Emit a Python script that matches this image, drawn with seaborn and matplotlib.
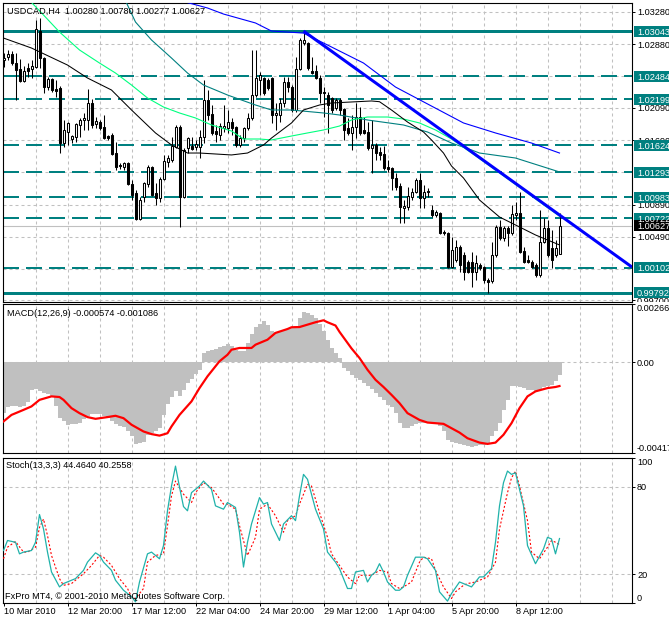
import matplotlib
matplotlib.use("Agg")
import matplotlib.pyplot as plt
from matplotlib.patches import Rectangle
from matplotlib.transforms import blended_transform_factory, Bbox, TransformedBbox
import numpy as np
import seaborn as sns

# ---------------- data ----------------
title_text = "USDCAD,H4  1.00280 1.00780 1.00277 1.00627"
macd_text = "MACD(12,26,9) -0.000574 -0.001086"
stoch_text = "Stoch(13,3,3) 44.4640 40.2558"
copy_text = "FxPro MT4, \u00a9 2001-2010 MetaQuotes Software Corp."

date_labels = ["10 Mar 2010", "12 Mar 20:00", "17 Mar 12:00", "22 Mar 04:00", "24 Mar 20:00",
               "29 Mar 12:00", "1 Apr 04:00", "5 Apr 20:00", "8 Apr 12:00"]
date_bars = [0, 16, 32, 48, 64, 80, 96, 112, 128]

opens = [1.02683, 1.02721, 1.02758, 1.02646, 1.02572, 1.02423, 1.02584, 1.02572, 1.02596, 1.03043,
         1.02708, 1.02348, 1.02448, 1.02323, 1.02336, 1.01653, 1.01790, 1.01703, 1.01728, 1.01877,
         1.01939, 1.01939, 1.02150, 1.01889, 1.01914, 1.01852, 1.01740, 1.01753, 1.01529, 1.01380,
         1.01356, 1.01405, 1.01145, 1.01033, 1.00710, 1.00983, 1.01145, 1.01356, 1.01033, 1.00971,
         1.01207, 1.01418, 1.01442, 1.01604, 1.01852, 1.00983, 1.01591, 1.01616, 1.01604, 1.01604,
         1.01728, 1.02187, 1.02013, 1.01802, 1.01753, 1.01840, 1.01840, 1.01914, 1.01852, 1.01629,
         1.01715, 1.01840, 1.01964, 1.02249, 1.02435, 1.02460, 1.02435, 1.02460, 1.02001, 1.02001,
         1.02150, 1.02410, 1.02348, 1.02063, 1.02572, 1.02894, 1.02894, 1.02547, 1.02547, 1.02460,
         1.02286, 1.02249, 1.02212, 1.02088, 1.02187, 1.02075, 1.01840, 1.01778, 1.01852, 1.01976,
         1.01815, 1.01790, 1.01591, 1.01629, 1.01542, 1.01517, 1.01356, 1.01343, 1.01219, 1.01120,
         1.00847, 1.00859, 1.00983, 1.01045, 1.01194, 1.00971, 1.01058, 1.00822, 1.00760, 1.00785,
         1.00549, 1.00536, 1.00115, 1.00201, 1.00363, 1.00263, 1.00177, 1.00177, 1.00053, 1.00139,
         1.00115, 0.99953, 0.99941, 1.00263, 1.00611, 1.00474, 1.00599, 1.00536, 1.00760, 1.00785,
         1.00313, 1.00201, 1.00177, 1.00139, 1.00015, 1.00425, 1.00599, 1.00350, 1.00263, 1.00280]
highs = [1.02770, 1.02808, 1.02795, 1.02770, 1.02696, 1.02609, 1.02646, 1.02683, 1.03180, 1.03205,
         1.02721, 1.02472, 1.02460, 1.02435, 1.02361, 1.01939, 1.01914, 1.01753, 1.01902, 1.01964,
         1.02026, 1.02323, 1.02199, 1.01976, 1.01939, 1.02001, 1.01753, 1.01778, 1.01666, 1.01405,
         1.01418, 1.01418, 1.01194, 1.01070, 1.00983, 1.01169, 1.01380, 1.01368, 1.01157, 1.01232,
         1.01505, 1.01505, 1.01728, 1.01877, 1.01877, 1.01591, 1.01728, 1.01728, 1.01691, 1.01815,
         1.02435, 1.02311, 1.02125, 1.01877, 1.01902, 1.02125, 1.02063, 1.01964, 1.01864, 1.01753,
         1.01852, 1.02026, 1.02808, 1.02808, 1.02534, 1.02472, 1.02460, 1.02472, 1.02150, 1.02212,
         1.02472, 1.02472, 1.02373, 1.02721, 1.02956, 1.03043, 1.02907, 1.02721, 1.02621, 1.02497,
         1.02348, 1.02286, 1.02224, 1.02212, 1.02212, 1.02088, 1.01964, 1.02001, 1.02150, 1.02100,
         1.01976, 1.01914, 1.01939, 1.01653, 1.01604, 1.01616, 1.01442, 1.01356, 1.01281, 1.01157,
         1.00946, 1.01107, 1.01095, 1.01219, 1.01281, 1.01132, 1.01095, 1.00884, 1.00822, 1.00797,
         1.00574, 1.00549, 1.00487, 1.00450, 1.00388, 1.00301, 1.00201, 1.00301, 1.00263, 1.00164,
         1.00127, 0.99978, 1.00425, 1.00636, 1.00698, 1.00623, 1.00623, 1.00884, 1.00921, 1.01045,
         1.00363, 1.00263, 1.00201, 1.00164, 1.00822, 1.00723, 1.00698, 1.00574, 1.00450, 1.00780]
lows = [1.02596, 1.02683, 1.02621, 1.02187, 1.02410, 1.02410, 1.02472, 1.02460, 1.02584, 1.02584,
        1.02274, 1.02311, 1.02286, 1.02224, 1.01529, 1.01604, 1.01629, 1.01653, 1.01666, 1.01728,
        1.01815, 1.01815, 1.01840, 1.01840, 1.01815, 1.01703, 1.01691, 1.01505, 1.01318, 1.01331,
        1.01318, 1.01132, 1.00946, 1.00698, 1.00698, 1.00921, 1.01107, 1.00996, 1.00884, 1.00921,
        1.01194, 1.01356, 1.01418, 1.01591, 1.00611, 1.00971, 1.01529, 1.01567, 1.01567, 1.01467,
        1.01653, 1.01939, 1.01753, 1.01666, 1.01691, 1.01790, 1.01778, 1.01753, 1.01604, 1.01604,
        1.01666, 1.01815, 1.01939, 1.02224, 1.02249, 1.02249, 1.02311, 1.01902, 1.01815, 1.01914,
        1.02100, 1.02286, 1.02038, 1.02038, 1.02559, 1.02870, 1.02559, 1.02510, 1.02448, 1.02150,
        1.01976, 1.01778, 1.02026, 1.02063, 1.02001, 1.01691, 1.01753, 1.01567, 1.01715, 1.01753,
        1.01765, 1.01567, 1.01281, 1.01442, 1.01442, 1.01318, 1.01294, 1.01070, 1.01070, 1.00661,
        1.00661, 1.00822, 1.00946, 1.01033, 1.00847, 1.00847, 1.00983, 1.00735, 1.00735, 1.00524,
        1.00512, 1.00102, 1.00102, 1.00177, 1.00053, 0.99953, 1.00040, 0.99866, 0.99953, 1.00077,
        0.99916, 0.99792, 0.99916, 1.00239, 1.00450, 1.00437, 1.00375, 1.00512, 1.00698, 1.00288,
        1.00164, 1.00164, 1.00102, 0.99990, 0.99990, 1.00412, 1.00239, 1.00102, 1.00239, 1.00277]
closes = [1.02708, 1.02758, 1.02646, 1.02559, 1.02423, 1.02547, 1.02547, 1.02609, 1.03068, 1.02708,
          1.02348, 1.02448, 1.02311, 1.02299, 1.01653, 1.01815, 1.01902, 1.01740, 1.01889, 1.01939,
          1.01964, 1.02150, 1.01877, 1.01926, 1.01840, 1.01715, 1.01715, 1.01517, 1.01356, 1.01368,
          1.01405, 1.01145, 1.01008, 1.00710, 1.00946, 1.01157, 1.01356, 1.01008, 1.00971, 1.01207,
          1.01430, 1.01467, 1.01616, 1.01852, 1.00983, 1.01567, 1.01715, 1.01579, 1.01641, 1.01728,
          1.02187, 1.02001, 1.01778, 1.01765, 1.01864, 1.01864, 1.01914, 1.01840, 1.01629, 1.01715,
          1.01840, 1.01964, 1.02249, 1.02460, 1.02497, 1.02274, 1.02336, 1.02001, 1.02026, 1.02150,
          1.02410, 1.02348, 1.02063, 1.02572, 1.02932, 1.02932, 1.02584, 1.02522, 1.02460, 1.02274,
          1.02274, 1.02125, 1.02063, 1.02187, 1.02063, 1.01815, 1.01778, 1.01852, 1.01976, 1.01778,
          1.01778, 1.01591, 1.01629, 1.01529, 1.01505, 1.01343, 1.01331, 1.01219, 1.01107, 1.00859,
          1.00871, 1.00996, 1.01045, 1.01194, 1.00971, 1.01045, 1.01045, 1.00760, 1.00797, 1.00536,
          1.00536, 1.00115, 1.00325, 1.00363, 1.00139, 1.00053, 1.00053, 1.00053, 1.00164, 1.00102,
          0.99953, 0.99928, 1.00263, 1.00611, 1.00474, 1.00599, 1.00536, 1.00772, 1.00785, 1.00301,
          1.00177, 1.00177, 1.00115, 1.00015, 1.00425, 1.00599, 1.00263, 1.00201, 1.00350, 1.00627]

# moving averages (bar index, price)
black_ma_bars = [0, 7, 16, 21, 27, 32, 38, 42, 46, 49, 53, 57, 61, 65, 67, 72, 75, 79, 82, 92, 94, 97,
                 101, 105, 107, 110, 112, 115, 119, 124, 128, 133, 136, 139]
black_ma = [1.02956, 1.02832, 1.02621, 1.02460, 1.02311, 1.02063, 1.01778, 1.01629, 1.01529, 1.01529,
            1.01517, 1.01505, 1.01529, 1.01629, 1.01715, 1.01902, 1.02063, 1.02125, 1.02150, 1.02175,
            1.02166, 1.02063, 1.01914, 1.01790, 1.01691, 1.01529, 1.01368, 1.01219, 1.00946, 1.00735,
            1.00636, 1.00512, 1.00450, 1.00388]
green_ma_bars = [0, 5, 10, 14, 19, 24, 28, 32, 36, 40, 44, 48, 52, 57, 60, 64, 67, 72, 76, 80, 84, 87,
                 91, 96, 100, 104, 108, 112, 117, 124, 132, 139]
green_ma = [1.03775, 1.03502, 1.03242, 1.03031, 1.02808, 1.02646, 1.02522, 1.02373, 1.02212, 1.02100,
            1.02026, 1.01964, 1.01877, 1.01802, 1.01703, 1.01703, 1.01691, 1.01740, 1.01778, 1.01815,
            1.01864, 1.01939, 1.01976, 1.01976, 1.01951, 1.01902, 1.01815, 1.01703, 1.01530, 1.01282,
            1.00995, 1.00745]
teal_ma_bars = [27, 29, 31, 33, 35, 37, 42, 46, 50, 56, 63, 67, 72, 80, 84, 91, 100, 106, 112, 117, 119,
                128, 139]
teal_ma = [1.03862, 1.03577, 1.03366, 1.03155, 1.03043, 1.02932, 1.02708, 1.02522, 1.02373, 1.02249,
           1.02125, 1.02063, 1.02063, 1.02026, 1.02001, 1.01939, 1.01877, 1.01790, 1.01653, 1.01567,
           1.01529, 1.01467, 1.01294]
blue_ma_bars = [0, 24, 39, 51, 55, 63, 67, 75, 82, 90, 98, 107, 115, 123, 132, 139]
blue_ma = [1.04049, 1.03701, 1.03490, 1.03329, 1.03254, 1.03143, 1.03043, 1.03018, 1.02845, 1.02646,
           1.02348, 1.02112, 1.01902, 1.01778, 1.01653, 1.01529]

# trend line anchors (bar, price)
trend_bars = [75, 139]
trend_prices = [1.03043, 1.00760]

# horizontal levels
levels_solid = [1.03043, 0.99792]
levels_dashed = [1.02484, 1.02199, 1.01624, 1.01293, 1.00983, 1.00722, 1.00102]
level_labels = ["1.03043", "1.02484", "1.02199", "1.01624", "1.01293", "1.00983", "1.00722",
                "1.00102", "0.99792"]
level_label_prices = [1.03043, 1.02484, 1.02199, 1.01624, 1.01293, 1.00983, 1.00722, 1.00102, 0.99792]
bid_price = 1.00627
bid_label = "1.00627"

price_ticks = [1.03280, 1.02880, 1.02090, 1.01690, 1.00890, 1.00490, 0.99700]
price_tick_labels = ["1.03280", "1.02880", "1.02090", "1.01690", "1.00890", "1.00490", "0.99700"]
price_grid = [1.03280, 1.02880, 1.02485, 1.02090, 1.01690, 1.01290, 1.00890, 1.00490, 1.00095, 0.99700]

# MACD main (histogram), units of 1e-3
macd_main = [-2.33, -2.05, -1.99, -2.02, -2.05, -1.99, -1.84, -1.29, -1.23, -1.33,
             -1.41, -1.46, -1.56, -2.02, -2.56, -2.71, -2.86, -2.85, -2.83, -2.79,
             -2.60, -2.45, -2.37, -2.36, -2.39, -2.45, -2.56, -2.71, -2.82, -2.90,
             -2.97, -3.13, -3.37, -3.74, -3.71, -3.63, -3.32, -3.25, -3.17, -3.02,
             -2.41, -1.90, -1.59, -1.33, -1.56, -1.26, -0.95, -0.77, -0.55, -0.34,
             0.43, 0.54, 0.58, 0.63, 0.69, 0.77, 0.83, 0.74, 0.58, 0.51,
             0.51, 0.89, 1.32, 1.62, 1.78, 1.88, 1.73, 1.42, 1.38, 1.44,
             1.50, 1.53, 1.59, 1.69, 2.04, 2.30, 2.27, 2.16, 2.04, 1.78,
             1.42, 1.04, 0.66, 0.43, 0.20, -0.26, -0.41, -0.57, -0.72, -0.80,
             -0.95, -1.10, -1.23, -1.41, -1.59, -1.72, -1.95, -2.05, -2.33, -2.79,
             -3.02, -3.02, -2.94, -2.82, -2.79, -2.76, -2.76, -2.79, -2.82, -2.94,
             -3.17, -3.55, -3.63, -3.68, -3.74, -3.78, -3.83, -3.86, -3.83, -3.81,
             -3.81, -3.71, -3.40, -3.17, -2.79, -2.18, -1.72, -1.10, -1.07, -1.13,
             -1.18, -1.26, -1.29, -1.33, -1.26, -1.13, -1.07, -1.03, -0.87, -0.574]
macd_sig_bars = [0, 2, 5, 7, 9, 12, 14, 15, 17, 19, 21, 23, 26, 28, 30, 32, 35, 37, 39, 41,
                 42, 44, 47, 49, 51, 53, 54, 56, 57, 59, 62, 63, 66, 68, 71, 72, 74, 76, 78, 80,
                 81, 83, 84, 87, 89, 91, 93, 95, 97, 99, 101, 104, 106, 108, 110, 112, 114, 116, 119, 121,
                 123, 125, 127, 129, 131, 133, 136, 138, 139]
macd_sig = [-2.71, -2.41, -2.18, -2.02, -1.72, -1.56, -1.59, -1.72, -2.10, -2.33,
            -2.51, -2.59, -2.51, -2.45, -2.56, -2.86, -3.17, -3.29, -3.36, -3.25,
            -2.94, -2.41, -1.79, -1.18, -0.64, -0.18, 0.05, 0.35, 0.58, 0.66,
            0.66, 0.81, 1.04, 1.35, 1.53, 1.61, 1.62, 1.73, 1.84, 1.93,
            1.84, 1.69, 1.40, 0.64, 0.20, -0.34, -0.80, -1.13, -1.49, -1.87,
            -2.33, -2.64, -2.76, -2.79, -2.82, -3.02, -3.22, -3.48, -3.68, -3.74,
            -3.68, -3.32, -2.79, -2.10, -1.56, -1.33, -1.18, -1.13, -1.086]
macd_top, macd_bottom = 2.663, -4.171

# Stochastic
st_bars = [0, 1, 3, 4, 5, 7, 8, 9, 10, 11, 12, 14, 15, 17, 18, 20, 21, 23, 24, 25,
           27, 28, 30, 32, 33, 34, 36, 37, 39, 40, 41, 42, 43, 44, 45, 46, 47, 49, 50, 52,
           53, 55, 56, 58, 59, 60, 61, 62, 64, 65, 66, 67, 69, 70, 72, 73, 74, 75, 76, 78,
           80, 81, 83, 84, 86, 87, 88, 90, 91, 92, 93, 94, 95, 96, 98, 99, 100, 101, 103, 105,
           106, 108, 109, 111, 112, 114, 115, 117, 119, 120, 122, 123, 124, 125, 126, 127, 128, 130, 131, 133,
           135, 136, 137, 138, 139]
st_main = [36.2, 43.1, 41.9, 33.9, 35.1, 36.2, 41.9, 61.0, 51.1, 35.1,
           21.4, 11.1, 13.4, 15.7, 16.8, 22.5, 28.2, 34.6, 32.8, 28.2,
           22.5, 15.7, 8.8, 4.3, 0.8, 14.5, 33.9, 35.1, 30.5, 39.6,
           63.6, 80.7, 94.4, 80.0, 66.5, 63.6, 76.1, 80.7, 84.1, 78.4,
           67.0, 64.7, 69.3, 65.9, 48.8, 24.8, 41.9, 54.5, 72.7, 68.2,
           69.3, 54.5, 43.1, 54.5, 60.2, 56.8, 73.9, 88.7, 85.3, 64.7,
           51.1, 35.1, 28.2, 23.7, 10.0, 10.0, 21.4, 22.5, 14.5, 19.1,
           21.4, 27.1, 21.4, 14.5, 8.8, 8.8, 11.1, 19.1, 31.6, 31.6,
           30.5, 22.5, 7.7, 1.3, 6.5, 14.5, 13.4, 11.1, 18.0, 18.0,
           23.7, 41.9, 67.0, 83.0, 91.0, 88.7, 89.8, 67.0, 39.6, 27.1,
           37.3, 45.3, 44.2, 33.9, 44.46]
st_sig_bars = [0, 1, 3, 5, 6, 8, 9, 10, 11, 12, 14, 15, 17, 18, 20, 22, 24, 25, 27, 29,
               31, 32, 33, 35, 36, 38, 40, 41, 42, 43, 45, 47, 48, 50, 52, 55, 56, 58, 59, 61,
               63, 64, 66, 68, 70, 71, 73, 74, 76, 77, 79, 81, 82, 84, 86, 88, 89, 91, 92, 94,
               96, 97, 99, 100, 102, 104, 105, 107, 108, 110, 112, 113, 115, 116, 118, 120, 121, 123, 124, 126,
               127, 128, 129, 131, 132, 134, 136, 137, 138, 139]
st_sig = [30.5, 38.5, 42.4, 35.1, 35.1, 38.5, 52.1, 57.9, 46.5, 32.8,
          16.8, 12.2, 13.4, 15.7, 20.2, 25.9, 32.8, 31.6, 25.9, 16.8,
          10.0, 4.3, 3.1, 10.0, 28.2, 32.8, 33.9, 53.3, 73.9, 84.1,
          75.0, 69.3, 76.1, 83.0, 79.6, 68.2, 68.2, 64.7, 53.3, 32.8,
          45.3, 64.7, 68.2, 60.2, 48.8, 56.8, 60.2, 68.2, 81.8, 80.7,
          62.4, 45.3, 33.9, 25.9, 17.9, 13.4, 19.1, 19.1, 19.1, 22.5,
          21.4, 13.4, 10.0, 11.1, 14.5, 28.2, 31.6, 30.5, 22.5, 11.1,
          3.1, 7.7, 12.2, 13.4, 14.5, 16.8, 17.9, 28.2, 51.0, 76.1,
          86.3, 90.9, 80.7, 56.8, 35.1, 30.5, 38.5, 43.1, 41.9, 40.26]
st_ticks = [0, 20, 80, 100]

# ---------------- style ----------------
plt.rcParams['font.family'] = ['Liberation Sans', 'DejaVu Sans']
plt.rcParams['lines.scale_dashes'] = False

W, H = 669, 621
PX = 0.72          # points per pixel at 100 dpi
FS = 6.6
GRID = '#C0C0C0'
TEAL = '#008080'
grid_dash = (3 * PX, 3 * PX)

fig = plt.figure(figsize=(W / 100, H / 100), dpi=100, facecolor='white')


def frac(x0, y0, x1, y1):
    return [x0 / W, 1 - y1 / H, (x1 - x0) / W, (y1 - y0) / H]


ax_p = fig.add_axes(frac(3, 3, 632, 302))
ax_m = fig.add_axes(frac(3, 304.3, 632, 453.3))
ax_s = fig.add_axes(frac(3, 458, 632, 603))

XMIN, XMAX = -0.125, 157.125
P_LO, P_HI = 0.99680, 1.03391

for ax in (ax_p, ax_m, ax_s):
    ax.set_facecolor('white')
    for s in ax.spines.values():
        s.set_color('black')
        s.set_linewidth(0.8)
    ax.yaxis.tick_right()
    ax.tick_params(axis='y', which='both', direction='out', length=3 * PX, width=0.7,
                   pad=2 * PX, labelsize=FS, colors='black')
    for b in range(8, 157, 8):
        ax.axvline(b, color=GRID, lw=0.75, dashes=grid_dash, zorder=0.5)

# ---------------- price panel ----------------
for p in price_grid:
    ax_p.axhline(p, color=GRID, lw=0.75, dashes=grid_dash, zorder=0.5)
ax_p.axhline(bid_price, color=GRID, lw=0.8, zorder=1)

for p in levels_dashed:
    ax_p.axhline(p, color=TEAL, lw=2 * PX, dashes=(16 * PX, 7 * PX), zorder=2)
for p in levels_solid:
    ax_p.axhline(p, color=TEAL, lw=3 * PX, zorder=2)

o = np.array(opens); h = np.array(highs); l = np.array(lows); c = np.array(closes)
bars = np.arange(len(o))
ax_p.vlines(bars, l, h, color='black', lw=0.75, zorder=4)
bull = c >= o
body_lo = np.minimum(o, c)
body_h = np.maximum(np.abs(c - o), 0.00002)
ax_p.bar(bars, body_h, bottom=body_lo, width=0.5,
         color=['white' if b else 'black' for b in bull],
         edgecolor='black', linewidth=0.75, zorder=5)

sns.lineplot(x=blue_ma_bars, y=blue_ma, ax=ax_p, color='#0000FF', linewidth=0.8,
             errorbar=None, legend=False, zorder=6)
sns.lineplot(x=teal_ma_bars, y=teal_ma, ax=ax_p, color='#008080', linewidth=0.8,
             errorbar=None, legend=False, zorder=6)
sns.lineplot(x=green_ma_bars, y=green_ma, ax=ax_p, color='#00FF7F', linewidth=0.8,
             errorbar=None, legend=False, zorder=6)
sns.lineplot(x=black_ma_bars, y=black_ma, ax=ax_p, color='black', linewidth=0.75,
             errorbar=None, legend=False, zorder=6)

slope = (trend_prices[1] - trend_prices[0]) / (trend_bars[1] - trend_bars[0])
ax_p.plot([trend_bars[0], XMAX],
          [trend_prices[0], trend_prices[0] + slope * (XMAX - trend_bars[0])],
          color='#0000FF', lw=3 * PX, zorder=7, solid_capstyle='butt')

ax_p.set_xlim(XMIN, XMAX)
ax_p.set_ylim(P_LO, P_HI)
ax_p.set_xticks([])
ax_p.set_yticks(price_ticks)
# the lowest price label is drawn separately so it can be cut by the MACD window
ax_p.set_yticklabels(price_tick_labels[:-1] + [""])
ax_p.set_xlabel(''); ax_p.set_ylabel('')

per_px = (P_HI - P_LO) / 299.0
tr = blended_transform_factory(fig.transFigure, ax_p.transData)

low_lbl = ax_p.text(637 / W, price_ticks[-1], price_tick_labels[-1], transform=tr,
                    fontsize=FS, va='center_baseline', ha='left', zorder=11)
low_lbl.set_clip_on(True)
low_lbl.set_clip_box(TransformedBbox(Bbox.from_extents(0, 1 - 302.5 / H, 1, 1), fig.transFigure))


def price_box(price, text, fc):
    ax_p.add_patch(Rectangle((633.5 / W, price - 5.5 * per_px), (W - 633.5) / W + 0.01,
                             11 * per_px, transform=tr, facecolor=fc, edgecolor='none',
                             clip_on=False, zorder=10))
    ax_p.text(637 / W, price, text, transform=tr, color='white', fontsize=FS,
              va='center_baseline', ha='left', zorder=11, clip_on=False)


for p, t in zip(level_label_prices, level_labels):
    price_box(p, t, TEAL)
price_box(bid_price, bid_label, 'black')

# ---------------- MACD panel ----------------
ax_m.axhline(0, color=GRID, lw=0.75, dashes=grid_dash, zorder=0.5)
ax_m.bar(np.arange(len(macd_main)), np.array(macd_main) / 1000.0, width=1.0,
         color='#C0C0C0', linewidth=0, zorder=2, antialiased=False)
sns.lineplot(x=macd_sig_bars, y=np.array(macd_sig) / 1000.0, ax=ax_m, color='red',
             linewidth=2.2 * PX, errorbar=None, legend=False, zorder=4)
ax_m.set_xlim(XMIN, XMAX)
ax_m.set_ylim(macd_bottom / 1000.0, macd_top / 1000.0)
ax_m.set_xticks([])
ax_m.set_yticks([macd_top / 1000.0, 0.0, macd_bottom / 1000.0])
ax_m.set_yticklabels(["0.002663", "0.00", "-0.004171"])
labs = ax_m.get_yticklabels()
labs[0].set_verticalalignment('top')
labs[2].set_verticalalignment('bottom')
ax_m.set_xlabel(''); ax_m.set_ylabel('')

# ---------------- Stochastic panel ----------------
for v in (20, 80):
    ax_s.axhline(v, color=GRID, lw=0.75, dashes=grid_dash, zorder=0.5)
sns.lineplot(x=st_bars, y=st_main, ax=ax_s, color='#20B2AA', linewidth=0.9,
             errorbar=None, legend=False, zorder=4)
sns.lineplot(x=st_sig_bars, y=st_sig, ax=ax_s, color='red', linewidth=0.8,
             errorbar=None, legend=False, zorder=3)
ax_s.lines[-1].set_dashes((2 * PX, 2 * PX))
ax_s.set_xlim(XMIN, XMAX)
ax_s.set_ylim(0, 100)
ax_s.set_yticks(st_ticks)
ax_s.set_yticklabels([str(v) for v in st_ticks])
slabs = ax_s.get_yticklabels()
slabs[0].set_verticalalignment('bottom')
slabs[3].set_verticalalignment('top')
ax_s.set_xticks(date_bars)
ax_s.set_xticklabels(date_labels, fontsize=FS, ha='left')
ax_s.tick_params(axis='x', direction='out', length=3 * PX, width=0.7, pad=1 * PX)
ax_s.set_xlabel(''); ax_s.set_ylabel('')

# ---------------- texts ----------------
fig.text(7 / W, 1 - 11 / H, title_text, fontsize=FS, va='center', ha='left')
fig.text(7 / W, 1 - 314 / H, macd_text, fontsize=FS, va='center', ha='left')
fig.text(6 / W, 1 - 466 / H, stoch_text, fontsize=FS, va='center', ha='left')
fig.text(5 / W, 1 - 596.5 / H, copy_text, fontsize=FS, va='center', ha='left')

fig.savefig("out.png", dpi=100, facecolor='white')
